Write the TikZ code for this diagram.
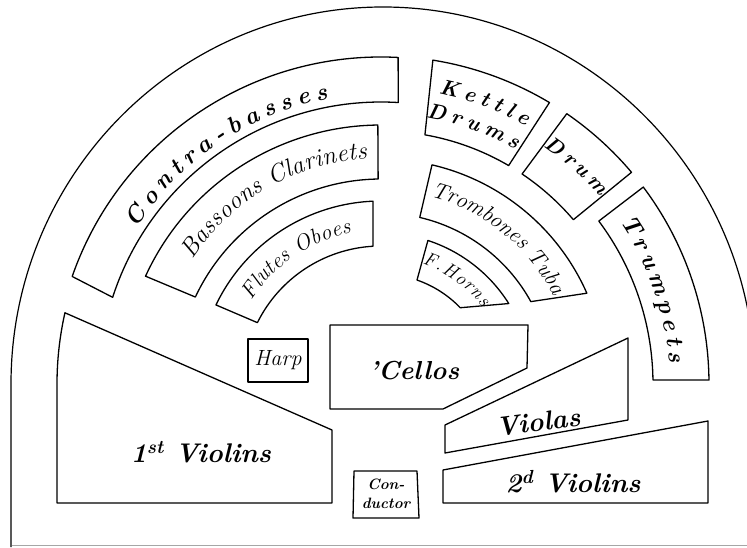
\documentclass[tikz,border=0pt]{standalone}
\usepackage{fontspec}
\usetikzlibrary{decorations.text}
\newcommand\bigbandfont{\fontsize{24}{28}\selectfont\bfseries\itshape}
\newcommand\kettlefont{\fontsize{21.5}{26}\selectfont\bfseries\itshape}
\newcommand\drumfont{\fontsize{21}{25}\selectfont\bfseries\itshape}
\newcommand\contrafont{\fontsize{24}{28}\selectfont\bfseries\itshape}
\newcommand\midbandfont{\fontsize{25}{29}\selectfont\itshape}
\newcommand\trbfont{\fontsize{22.5}{27}\selectfont\itshape}
\newcommand\smlbandfont{\fontsize{22}{26}\selectfont\itshape}
\newcommand\tinybandfont{\fontsize{19}{23}\selectfont\itshape}
\begin{document}
\begin{tikzpicture}[x=1pt,y=1pt,
  outline/.style={draw=black, line width=1.3pt, line join=round},
  lbl/.style={font=\fontsize{27}{31}\selectfont\bfseries\itshape\addfontfeatures{LetterSpace=16}, inner sep=0pt},
  arctext/.style={decorate, decoration={text along path, text align={fit to path}, text={#1}}},
]
\useasboundingbox (0,0) rectangle (747,547);
\clip (0,0) rectangle (747,547);
\fill[white] (0,0) rectangle (747,547);
% floor line
\draw[black!35, line width=0.9pt] (12,2) -- (747,2);
% stage outline
\draw[outline, line width=1.2pt] (11,0) -- (11,163) arc[start angle=180, end angle=0, x radius=372, y radius=377] -- (755,0);

\begin{scope}[shift={(381,163)}]
  % left bands
  \draw[outline] (87:327) arc[start angle=87, end angle=160.8, radius=327] -- (162.1:282) arc[start angle=162.1, end angle=86.5, radius=282] -- cycle;
  \draw[outline] (90.7:259) arc[start angle=90.7, end angle=155.4, radius=259] -- (154.9:205) arc[start angle=154.9, end angle=90.8, radius=205] -- cycle;
  \draw[outline] (92.5:183) arc[start angle=92.5, end angle=154.4, radius=183] -- (153.6:138) arc[start angle=153.6, end angle=93.3, radius=138] -- cycle;
  % right bands
  \draw[outline] (59.1:328) arc[start angle=59.1, end angle=80.9, radius=328] -- (80.0:253) arc[start angle=80.0, end angle=59.7, radius=253] -- cycle;
  \draw[outline] (40.2:328) arc[start angle=40.2, end angle=55.5, radius=328] -- (56.1:253) arc[start angle=56.1, end angle=40.5, radius=253] -- cycle;
  \draw[outline] (0.7:328) arc[start angle=0.7, end angle=36.9, radius=328] -- (36.8:272) arc[start angle=36.8, end angle=0.85, radius=272] -- cycle;
  \draw[outline] (23.8:225) arc[start angle=23.8, end angle=76.9, radius=225] -- (76.9:171) arc[start angle=76.9, end angle=28.8, radius=171] -- cycle;
  \draw[outline] (32.2:151) arc[start angle=32.2, end angle=71.9, radius=151] -- (70.9:110) arc[start angle=70.9, end angle=43.9, radius=110] -- cycle;

  % curved texts
  \path[arctext={|\contrafont|Contra-basses}] (147.5:290) arc[start angle=147.5, end angle=100.5, radius=290];
  \path[arctext={|\midbandfont|Bassoons Clarinets}] (146.5:226) arc[start angle=146.5, end angle=93.5, radius=226];
  \path[arctext={|\smlbandfont|Flutes Oboes}] (147:154) arc[start angle=147, end angle=101, radius=154];
  \path[arctext={|\trbfont|Trombones Tuba}] (75.3:194) arc[start angle=75.3, end angle=27.2, radius=194];
  \path[arctext={|\tinybandfont|F.Horns}] (71:127) arc[start angle=71, end angle=37, radius=127];
  \path[arctext={|\bigbandfont|Trumpets}] (34.2:289) arc[start angle=34.2, end angle=4.2, radius=289];
  \path[arctext={|\drumfont|Drum}] (55.6:288) arc[start angle=55.6, end angle=40.6, radius=288];
  \path[arctext={|\kettlefont|Kettle}] (78.8:296) arc[start angle=78.8, end angle=60.8, radius=296];
  \path[arctext={|\kettlefont|Drums}] (80.4:270) arc[start angle=80.4, end angle=60.2, radius=270];

  % 1st violins
  \draw[outline] (-49,-46) -- (167.3:324) arc[start angle=167.3, end angle=180, radius=324] -- (-324,-119) -- (-49,-119) -- cycle;
\end{scope}

% straight blocks
\draw[outline] (248,165) rectangle (308,208);
\draw[outline] (330,222) -- (528,222) -- (527,179) -- (443,138) -- (330,138) -- cycle;
\draw[outline] (628,209) -- (628,127) -- (445,94) -- (445,122) -- cycle;
\draw[outline] (708,126) -- (708,44) -- (443,44) -- (443,77) -- cycle;
\draw[outline] (354,76) -- (417,76) -- (419,29) -- (353,29) -- cycle;

% labels
\node[lbl] (vone) at (201,95) {1\textsuperscript{st}\ Violins};
\node[lbl] (vtwo) at (573,65) {2\textsuperscript{d}\ Violins};
\node[lbl, rotate=7.5] (vla) at (538,125) {Violas};
\node[lbl, font=\fontsize{26}{30}\selectfont\bfseries\itshape\addfontfeatures{LetterSpace=6}] (vc) at (414,176) {’Cellos};
\node[inner sep=0pt, font=\fontsize{22}{26}\selectfont\itshape] (hp) at (278,187) {Harp};
\node[inner sep=0pt, align=center, font=\fontsize{15}{19}\selectfont\bfseries\itshape] (cond) at (386,53) {Con-\\ductor};
\end{tikzpicture}
\end{document}
